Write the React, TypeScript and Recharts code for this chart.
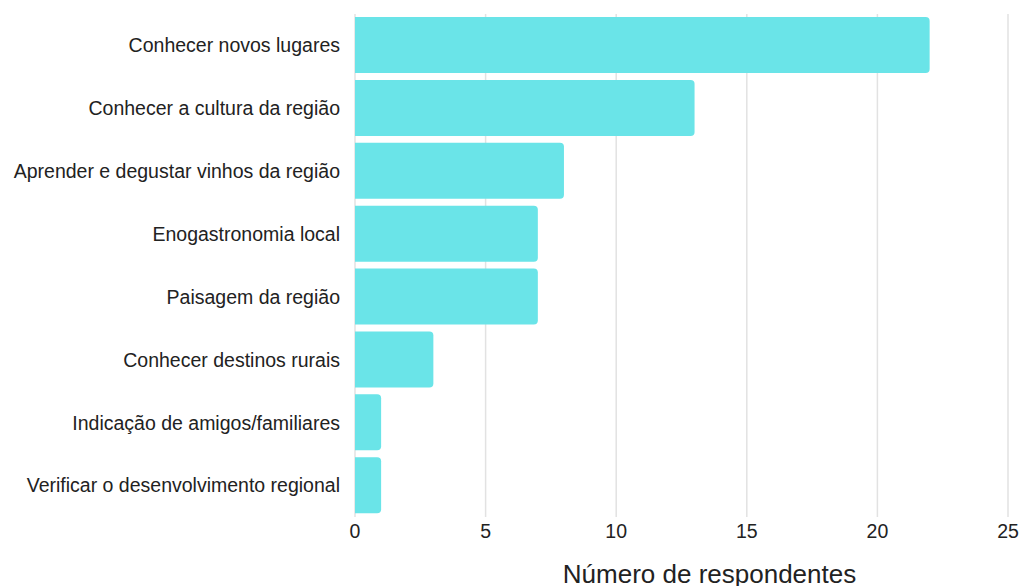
import React from "react";
import { BarChart, Bar, XAxis, YAxis, CartesianGrid, Label } from "recharts";

const categories = [
  "Conhecer novos lugares",
  "Conhecer a cultura da região",
  "Aprender e degustar vinhos da região",
  "Enogastronomia local",
  "Paisagem da região",
  "Conhecer destinos rurais",
  "Indicação de amigos/familiares",
  "Verificar o desenvolvimento regional",
];
const respondents = [22, 13, 8, 7, 7, 3, 1, 1];
const xTicks = [0, 5, 10, 15, 20, 25];

const data = categories.map((c, i) => ({ name: c, value: respondents[i] }));

const FONT = "Liberation Sans, Arial, sans-serif";

export default function App() {
  return (
    <div style={{ position: "absolute", left: 0, top: 0, background: "#fff" }}>
      <BarChart
        width={1022}
        height={586}
        data={data}
        layout="vertical"
        margin={{ top: 14, right: 14, bottom: 0, left: 0 }}
      >
        <CartesianGrid horizontal={false} stroke="#e2e2e2" strokeWidth={1.5} />
        <XAxis
          type="number"
          domain={[0, 25]}
          ticks={xTicks}
          height={69}
          axisLine={false}
          tickLine={false}
          tickSize={0}
          tickMargin={7}
          tick={{ fill: "#222", fontSize: 19.5, fontFamily: FONT }}
        >
          <Label
            value="Número de respondentes"
            position="insideBottom"
            offset={3}
            dx={28}
            style={{ fill: "#222", fontSize: 26, fontFamily: FONT }}
          />
        </XAxis>
        <YAxis
          type="category"
          dataKey="name"
          width={355}
          axisLine={false}
          tickLine={false}
          tickSize={0}
          tickMargin={15}
          interval={0}
          tick={{ fill: "#222", fontSize: 19.5, fontFamily: FONT }}
        />
        <Bar
          dataKey="value"
          fill="#6ae4e8"
          barSize={56}
          radius={[0, 4, 4, 0]}
          isAnimationActive={false}
        />
      </BarChart>
    </div>
  );
}
